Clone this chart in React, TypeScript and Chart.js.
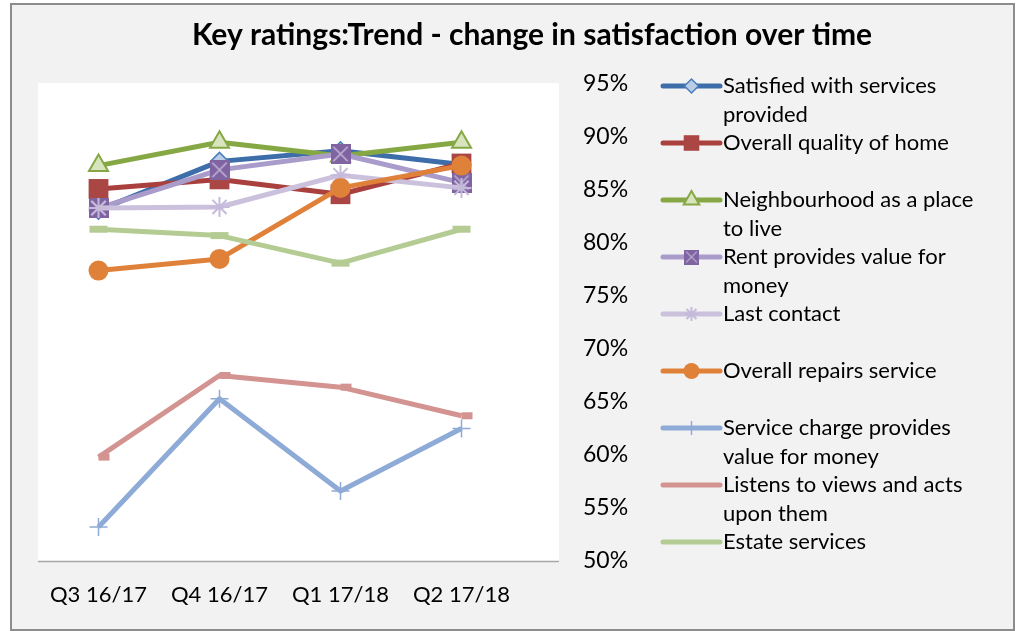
import React, { useEffect, useRef } from "react";
import { Chart, registerables } from "chart.js";
import { drawPoint } from "chart.js/helpers";

Chart.register(...registerables);

const categories = ["Q3 16/17", "Q4 16/17", "Q1 17/18", "Q2 17/18"];

const satisfiedServices = [83.1, 87.7, 88.7, 87.4];
const qualityOfHome = [85.1, 86.0, 84.6, 87.5];
const neighbourhood = [87.3, 89.5, 88.2, 89.5];
const rentValue = [83.3, 86.9, 88.4, 85.7];
const lastContact = [83.3, 83.4, 86.4, 85.2];
const repairsService = [77.4, 78.5, 85.2, 87.3];
const serviceCharge = [53.2, 65.3, 56.6, 62.5];
const listensViews = [59.8, 67.5, 66.4, 63.7];
const estateServices = [81.3, 80.7, 78.1, 81.3];

const seriesLabels = [
  "Satisfied with services provided",
  "Overall quality of home",
  "Neighbourhood as a place to live",
  "Rent provides value for money",
  "Last contact",
  "Overall repairs service",
  "Service charge provides value for money",
  "Listens to views and acts upon them",
  "Estate services",
];

const legendLines = [
  ["Satisfied with services", "provided"],
  ["Overall quality of home"],
  ["Neighbourhood as a place", "to live"],
  ["Rent provides value for", "money"],
  ["Last contact"],
  ["Overall repairs service"],
  ["Service charge provides", "value for money"],
  ["Listens to views and acts", "upon them"],
  ["Estate services"],
];

const yMin = 50;
const yMax = 95;
const yStep = 5;

const titleText = "Key ratings:Trend - change in satisfaction over time";

const FONT = "Lato, 'Liberation Sans', sans-serif";

function makeRentMarker(size: number) {
  const c = document.createElement("canvas");
  c.width = size;
  c.height = size;
  const g = c.getContext("2d")!;
  g.fillStyle = "#8064a2";
  g.fillRect(0, 0, size, size);
  g.strokeStyle = "#c2b4d6";
  g.lineWidth = Math.max(1, size / 13);
  const m = size * 0.14;
  g.beginPath();
  g.moveTo(m, m);
  g.lineTo(size - m, size - m);
  g.moveTo(size - m, m);
  g.lineTo(m, size - m);
  g.stroke();
  return c;
}

export default function App() {
  const ref = useRef<HTMLCanvasElement>(null);

  useEffect(() => {
    const canvas = ref.current!;
    const rentBig = makeRentMarker(20);
    const rentSmall = makeRentMarker(15);

    const values = [
      satisfiedServices,
      qualityOfHome,
      neighbourhood,
      rentValue,
      lastContact,
      repairsService,
      serviceCharge,
      listensViews,
      estateServices,
    ];

    const styles: any[] = [
      { line: "#3d6ea9", point: "rectRot", r: 9, lr: 7, fill: "#b9cde5", border: "#4a7ebb", bw: 1.5 },
      { line: "#a9403d", point: "rect", r: 14, lr: 11, fill: "#aa4643", border: "#aa4643", bw: 0 },
      { line: "#86a844", point: "triangle", r: 11, lr: 9, fill: "#d7e4bd", border: "#86a844", bw: 2 },
      { line: "#a99ccb", point: rentBig, legendPoint: rentSmall, r: 10, lr: 8, fill: "#8064a2", border: "#8064a2", bw: 0 },
      { line: "#ccc1dd", point: "star", r: 10, lr: 7, fill: "#c6badb", border: "#c6badb", bw: 2 },
      { line: "#e0813a", point: "circle", r: 10, lr: 8, fill: "#e0813a", border: "#e0813a", bw: 0 },
      { line: "#8eaad6", point: "cross", r: 9, lr: 7, fill: "#8eaad6", border: "#8eaad6", bw: 1.5 },
      { line: "#d39391", point: "dash", r: 11, lr: 0, fill: "#d39391", border: "#d39391", bw: 7 },
      { line: "#b4cc93", point: "line", r: 9, lr: 0, fill: "#b4cc93", border: "#b4cc93", bw: 7 },
    ];

    const datasets = values.map((d, i) => {
      const s = styles[i];
      return {
        label: seriesLabels[i],
        data: d,
        borderColor: s.line,
        backgroundColor: s.line,
        borderWidth: 5,
        borderJoinStyle: "round" as const,
        pointStyle: s.point,
        pointRadius: s.r,
        pointHoverRadius: s.r,
        pointBackgroundColor: s.fill,
        pointBorderColor: s.border,
        pointBorderWidth: s.bw,
        pointHoverBorderWidth: s.bw,
        tension: 0,
        order: values.length - i,
      };
    });

    const decor = {
      id: "decor",
      beforeDraw(chart: any) {
        const { ctx, chartArea } = chart;
        ctx.save();
        ctx.fillStyle = "#ffffff";
        ctx.fillRect(0, 0, chart.width, chart.height);
        ctx.fillStyle = "#f2f2f2";
        ctx.fillRect(10, 3, 1005, 628);
        ctx.strokeStyle = "#8c8c8c";
        ctx.lineWidth = 2;
        ctx.strokeRect(11, 4, 1003, 626);
        // plot area
        const plotRight = 559;
        ctx.fillStyle = "#ffffff";
        ctx.fillRect(chartArea.left, chartArea.top - 1, plotRight - chartArea.left, chartArea.bottom - chartArea.top + 1);
        ctx.strokeStyle = "#a6a6a6";
        ctx.lineWidth = 1.5;
        ctx.beginPath();
        ctx.moveTo(chartArea.left, chartArea.bottom + 0.5);
        ctx.lineTo(plotRight, chartArea.bottom + 0.5);
        ctx.stroke();
        ctx.restore();
      },
      afterDraw(chart: any) {
        const { ctx } = chart;
        ctx.save();
        // title
        ctx.fillStyle = "#000000";
        ctx.font = `bold 30px ${FONT}`;
        ctx.textAlign = "center";
        ctx.textBaseline = "middle";
        ctx.fillText(titleText, 532, 35);
        // legend
        const x0 = 663;
        const x1 = 720;
        const tx = 723;
        const top = 86;
        const step = 57;
        const lineGap = 29;
        ctx.font = `22px ${FONT}`;
        ctx.textAlign = "left";
        chart.data.datasets.forEach((ds: any, i: number) => {
          const s = styles[i];
          const y = top + step * i;
          ctx.strokeStyle = s.line;
          ctx.lineWidth = 5;
          ctx.lineCap = "round";
          ctx.beginPath();
          ctx.moveTo(x0, y);
          ctx.lineTo(x1, y);
          ctx.stroke();
          ctx.lineCap = "butt";
          if (s.lr > 0) {
            ctx.fillStyle = s.fill;
            ctx.strokeStyle = s.border;
            ctx.lineWidth = s.bw;
            drawPoint(
              ctx,
              { pointStyle: s.legendPoint || s.point, radius: s.lr, rotation: 0, borderWidth: s.bw },
              (x0 + x1) / 2,
              y
            );
          }
          ctx.fillStyle = "#000000";
          legendLines[i].forEach((t, k) => {
            ctx.fillText(t, tx, y + k * lineGap);
          });
        });
        ctx.restore();
      },
    };

    const chart = new Chart(canvas, {
      type: "line",
      data: { labels: categories, datasets },
      options: {
        responsive: false,
        animation: false,
        devicePixelRatio: 1,
        layout: { padding: { left: 38, top: 84, right: 344, bottom: 0 } },
        plugins: {
          legend: { display: false },
          title: { display: false },
          tooltip: { enabled: false },
        },
        scales: {
          x: {
            offset: true,
            grid: { display: false, drawTicks: false },
            border: { display: false },
            ticks: { padding: 21, color: "#000000", font: { family: FONT, size: 22 } },
            afterFit(scale: any) {
              scale.height = 70;
            },
          },
          y: {
            position: "right",
            min: yMin,
            max: yMax,
            grid: { display: false, drawTicks: false },
            border: { display: false },
            ticks: {
              stepSize: yStep,
              padding: 61,
              color: "#000000",
              font: { family: FONT, size: 23 },
              callback: (v: any) => `${v}%`,
            },
            afterFit(scale: any) {
              scale.width = 150;
              scale.paddingTop = 14;
              scale.paddingBottom = 14;
            },
          },
        },
      },
      plugins: [decor],
    });

    return () => chart.destroy();
  }, []);

  return (
    <div style={{ position: "absolute", left: 0, top: 0, width: 1016, height: 631 }}>
      <canvas ref={ref} width={1016} height={631} style={{ display: "block" }} />
    </div>
  );
}
